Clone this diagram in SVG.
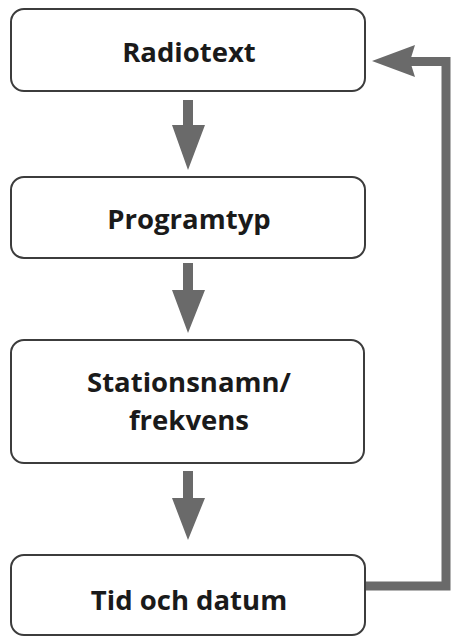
<svg xmlns="http://www.w3.org/2000/svg" width="453" height="637" viewBox="0 0 453 637">
<style>
.box{fill:#fff;stroke:#3c3c3c;stroke-width:2}
.lbl{font-family:"Open Sans","DejaVu Sans",sans-serif;font-weight:700;font-size:27.5px;fill:#1a1a1a;text-anchor:middle}
.arr{fill:#6a6a6a}
.line{fill:none;stroke:#6a6a6a;stroke-width:9}
</style>
<rect width="453" height="637" fill="#fff"/>
<g id="node-radiotext"><rect class="box" x="11" y="9" width="354" height="82" rx="13"/><text class="lbl" x="189" y="62">Radiotext</text></g>
<g id="node-programtyp"><rect class="box" x="11" y="177" width="354" height="81" rx="13"/><text class="lbl" x="189" y="229">Programtyp</text></g>
<g id="node-stationsnamn"><rect class="box" x="11" y="340" width="353" height="123" rx="13"/><text class="lbl" x="189" y="392">Stationsnamn/</text><text class="lbl" x="189" y="430">frekvens</text></g>
<g id="node-tid"><rect class="box" x="11" y="555" width="354" height="80" rx="13"/><text class="lbl" x="189" y="610">Tid och datum</text></g>
<g id="connectors">
<path class="arr" d="M183,100 H193 V125 H205 L188,170 L172,125 H183 Z"/>
<path class="arr" d="M183,263 H193 V290 H205 L188,333 L172,290 H183 Z"/>
<path class="arr" d="M183,471 H193 V498 H205 L188,540 L172,498 H183 Z"/>
<path class="line" d="M366,586 H446 V61.5 H410"/>
<path class="arr" d="M372,61 L415,45 L410,61 L415,77 Z"/>
</g>
</svg>
